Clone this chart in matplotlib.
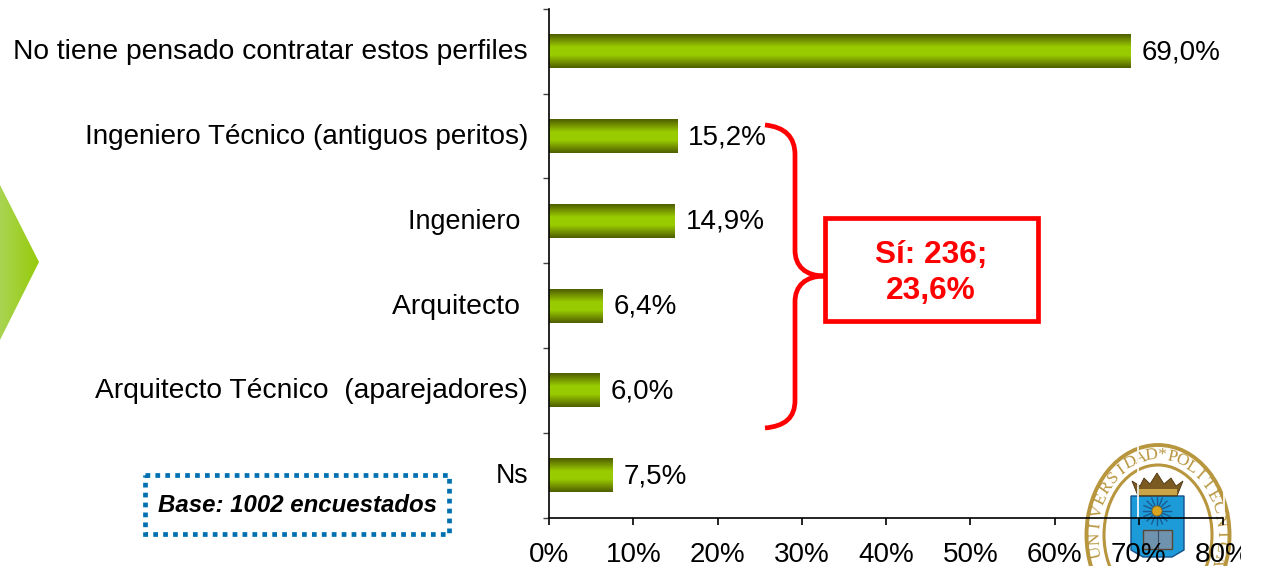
import numpy as np
import matplotlib
matplotlib.use("Agg")
import matplotlib.pyplot as plt
from matplotlib.colors import LinearSegmentedColormap
from matplotlib.patches import Ellipse, Polygon, Rectangle, PathPatch, Circle
from matplotlib.path import Path

plt.rcParams['font.family'] = ['Liberation Sans', 'DejaVu Sans']

categories = ['No tiene pensado contratar estos perfiles',
              'Ingeniero Técnico (antiguos peritos)',
              'Ingeniero ',
              'Arquitecto ',
              'Arquitecto Técnico  (aparejadores)',
              'Ns']
values = [69.0, 15.2, 14.9, 6.4, 6.0, 7.5]
value_labels = ['69,0%', '15,2%', '14,9%', '6,4%', '6,0%', '7,5%']
x_ticks = [0, 10, 20, 30, 40, 50, 60, 70, 80]
x_tick_labels = ['0%', '10%', '20%', '30%', '40%', '50%', '60%', '70%', '80%']
box_text = 'Sí: 236;\n23,6%'
base_text = 'Base: 1002 encuestados'
logo_text = 'UNIVERSIDAD*POLITECNICA'

W, H = 1262, 566
GOLD = '#B8963E'
RED = '#FF0000'
BLUE = '#0070B0'
# the original labels are unevenly spaced, so each one gets its own size
label_sizes = [20.3, 20.1, 19.4, 20.4, 20.3, 19.3]


def main():
    fig = plt.figure(figsize=(W / 100, H / 100), dpi=100, facecolor='white')

    # overlay in pixel coordinates, logo goes under the chart
    back = fig.add_axes([0, 0, 1, 1], zorder=0)
    back.set_xlim(0, W)
    back.set_ylim(H, 0)
    back.axis('off')
    draw_chevron(back)
    draw_logo(back)

    ax = fig.add_axes([549 / W, 1 - 517.5 / H, (1223 - 549) / W, (517.5 - 9) / H], zorder=1)
    ax.patch.set_alpha(0)
    y = np.arange(len(categories))
    bar_cmap = LinearSegmentedColormap.from_list(
        'bar', [(0, '#4F5F00'), (0.15, '#6F8A00'), (0.38, '#99CC00'),
                (0.62, '#99CC00'), (0.85, '#6F8A00'), (1, '#4F5F00')])
    grad = np.linspace(0, 1, 64).reshape(-1, 1)
    bars = ax.barh(y, values, height=0.4, color='#99CC00', zorder=1)
    for b in bars:
        im = ax.imshow(grad, cmap=bar_cmap, aspect='auto', zorder=2,
                       extent=[b.get_x(), b.get_x() + b.get_width(),
                               b.get_y() + b.get_height(), b.get_y()])
        im.set_clip_path(b)
    for yy, v, lab in zip(y, values, value_labels):
        ax.annotate(lab, (v, yy), xytext=(11, -1), textcoords='offset pixels',
                    ha='left', va='center', fontsize=20, color='black')

    ax.set_xlim(0, 80)
    ax.set_ylim(len(categories) - 0.5, -0.5)
    ax.set_xticks(x_ticks)
    ax.set_xticklabels(x_tick_labels, fontsize=20)
    ax.set_yticks(np.arange(len(categories) + 1) - 0.5)
    ax.set_yticklabels([])
    ax.tick_params(axis='x', length=5, width=1.2, pad=12.5)
    ax.tick_params(axis='y', length=4, width=1, color='#444444')
    for yy, c, size in zip(y, categories, label_sizes):
        ax.annotate(c, (0, yy), xytext=(-21, -1), textcoords='offset pixels',
                    ha='right', va='center', fontsize=size, color='black')
    for s in ['top', 'right']:
        ax.spines[s].set_visible(False)
    for s in ['left', 'bottom']:
        ax.spines[s].set_linewidth(1.2)
        ax.spines[s].set_color('black')

    # annotations on top
    top = fig.add_axes([0, 0, 1, 1], zorder=2)
    top.set_xlim(0, W)
    top.set_ylim(H, 0)
    top.axis('off')
    brace = Path([(765, 125), (785, 127), (795, 137), (795, 155),
                  (795, 250),
                  (795, 266), (805, 276), (825, 276),
                  (805, 276), (795, 286), (795, 302),
                  (795, 400),
                  (795, 418), (785, 426), (765, 428)],
                 [Path.MOVETO, Path.CURVE4, Path.CURVE4, Path.CURVE4,
                  Path.LINETO,
                  Path.CURVE4, Path.CURVE4, Path.CURVE4,
                  Path.CURVE4, Path.CURVE4, Path.CURVE4,
                  Path.LINETO,
                  Path.CURVE4, Path.CURVE4, Path.CURVE4])
    top.add_patch(PathPatch(brace, fc='none', ec=RED, lw=3.4))
    top.add_patch(Rectangle((825, 218), 213, 103, fc='white', ec=RED, lw=3.4, joinstyle='miter'))
    top.text(931, 273, box_text, color=RED, fontsize=22.8, fontweight='bold',
             ha='center', va='center', linespacing=1.3)
    top.add_patch(Rectangle((145, 475), 304, 59, fc='white', ec=BLUE, lw=3.4,
                            linestyle=(0, (1, 1.1))))
    top.text(298, 506, base_text, fontsize=17.25, fontweight='bold', fontstyle='italic',
             ha='center', va='center')
    # the 80% label is cut in the original
    top.add_patch(Rectangle((1241, 535), 21, 31, fc='white', ec='none'))

    fig.savefig('out.png', dpi=100, facecolor='white')


def draw_chevron(ax):
    cmap = LinearSegmentedColormap.from_list('chev', ['#A9D452', '#96CB0A'])
    im = ax.imshow(np.linspace(0, 1, 64).reshape(1, -1), cmap=cmap, aspect='auto',
                   extent=[0, 39, 340, 185], zorder=1)
    poly = Polygon([(0, 185), (39, 262), (0, 340)], closed=True, fc='none', ec='none',
                   transform=ax.transData)
    ax.add_patch(poly)
    im.set_clip_path(poly)
    ax.set_xlim(0, W)
    ax.set_ylim(H, 0)


def draw_logo(ax):
    cx, cy = 1158, 535
    ax.add_patch(Ellipse((cx, cy), 143, 180, fc='white', ec=GOLD, lw=2.8, zorder=2))
    ax.add_patch(Ellipse((cx, cy), 108, 140, fc='white', ec=GOLD, lw=2.2, zorder=2))

    # lettering round the ring
    angles = np.linspace(192, -18, len(logo_text))
    for ch, a in zip(logo_text, angles):
        t = np.radians(a)
        ax.text(cx + 63 * np.cos(t), cy - 80 * np.sin(t), ch, color=GOLD, fontsize=12.5,
                family=['Liberation Serif'], ha='center', va='center',
                rotation=a - 90, rotation_mode='anchor', clip_on=True, zorder=3)

    # shield
    ax.add_patch(Polygon([(1131, 496), (1184, 496), (1184, 550), (1172, 557), (1143, 557), (1131, 550)],
                         closed=True, fc='#1C9BD8', ec='#16508A', lw=1, zorder=3))
    # crown
    ax.add_patch(Polygon([(1132, 481), (1140, 486), (1144, 478), (1150, 484), (1157, 473), (1164, 484),
                          (1171, 478), (1176, 486), (1183, 481), (1177, 496), (1138, 496)],
                         closed=True, fc='#7A5A20', ec='#4A3410', lw=0.6, zorder=3))
    ax.add_patch(Rectangle((1139, 489), 38, 6, fc='#C9A548', ec='none', zorder=4))
    # sun
    for a in np.arange(0, 360, 22.5):
        t = np.radians(a)
        ax.plot([1157, 1157 + 14 * np.cos(t)], [511, 511 + 14 * np.sin(t)],
                color='#1A5A90', lw=1, zorder=4)
    ax.add_patch(Circle((1157, 511), 5, fc='#D9A520', ec='#8A6510', lw=0.5, zorder=5))
    # book
    ax.add_patch(Rectangle((1143, 530), 29, 19, fc='#6F93AE', ec='#5A4630', lw=1, zorder=4))
    ax.plot([1157.5, 1157.5], [530, 549], color='#3A4A5A', lw=0.8, zorder=5)

    # white cuts through the logo
    ax.plot([1138, 1138], [430, 518], color='white', lw=1.2, zorder=6)
    ax.plot([1224, 1224], [490, 518], color='white', lw=1.2, zorder=6)


if __name__ == "__main__":
    main()
